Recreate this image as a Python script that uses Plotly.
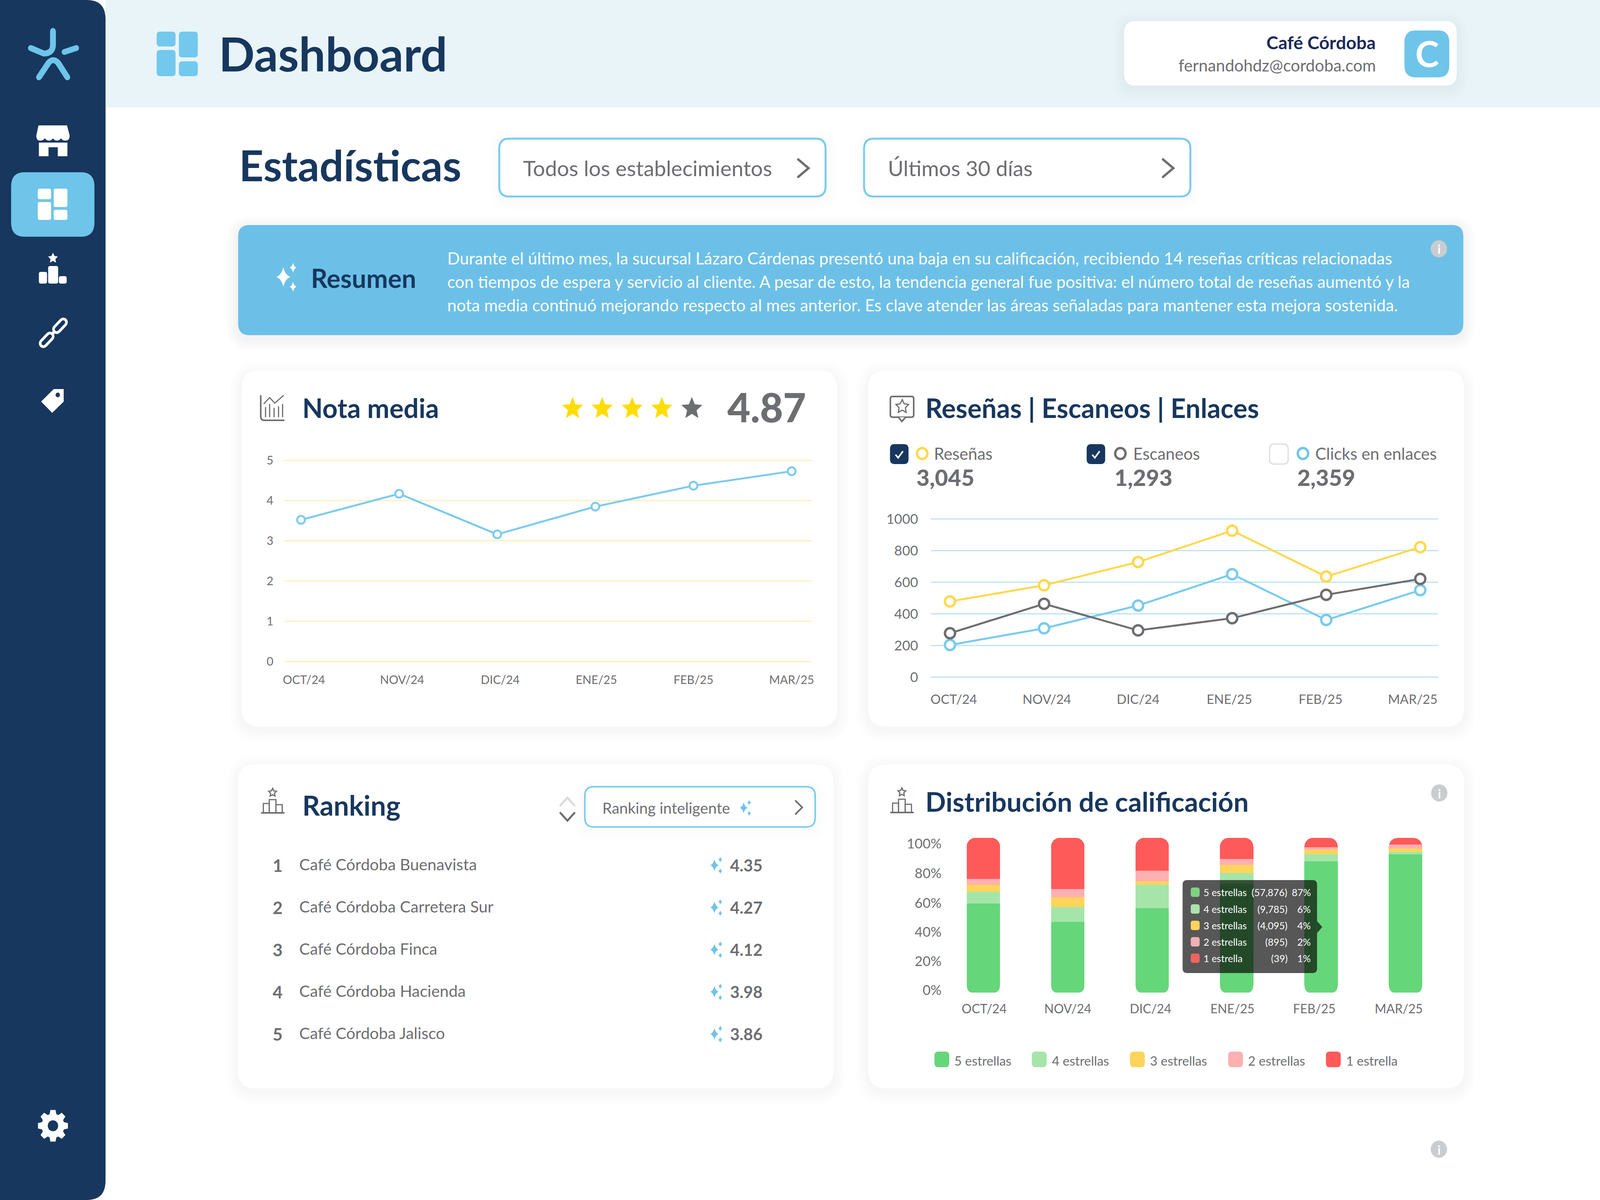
import math
import re

import numpy as np
import plotly.graph_objects as go

# data
months = ['OCT/24', 'NOV/24', 'DIC/24', 'ENE/25', 'FEB/25', 'MAR/25']
nota_media = [3.52, 4.17, 3.16, 3.85, 4.37, 4.73]
resenas = [479, 581, 728, 926, 636, 822]
escaneos = [278, 464, 296, 373, 521, 621]
clicks = [204, 309, 453, 651, 362, 550]
totals = ['3,045', '1,293', '2,359']
series_names = ['Reseñas', 'Escaneos', 'Clicks en enlaces']

stars_5 = [57.6, 45.6, 54.6, 70.5, 84.9, 89.5]
stars_4 = [7.6, 9.8, 15.2, 6.8, 4.6, 1.5]
stars_3 = [4.6, 6.1, 2.2, 5.4, 3.0, 2.2]
stars_2 = [3.7, 5.3, 6.8, 3.7, 1.5, 2.4]
stars_1 = [26.5, 33.2, 21.2, 13.6, 6.0, 4.3]
star_names = ['5 estrellas', '4 estrellas', '3 estrellas', '2 estrellas', '1 estrella']
tip_counts = ['(57,876)', '(9,785)', '(4,095)', '(895)', '(39)']
tip_pcts = ['87%', '6%', '4%', '2%', '1%']

rank_names = ['Café Córdoba Buenavista', 'Café Córdoba Carretera Sur', 'Café Córdoba Finca',
              'Café Córdoba Hacienda', 'Café Córdoba Jalisco']
rank_scores = ['4.35', '4.27', '4.12', '3.98', '3.86']

resumen = [
    'Durante el último mes, la sucursal Lázaro Cárdenas presentó una baja en su calificación, recibiendo 14 reseñas críticas relacionadas',
    'con tiempos de espera y servicio al cliente. A pesar de esto, la tendencia general fue positiva: el número total de reseñas aumentó y la',
    'nota media continuó mejorando respecto al mes anterior. Es clave atender las áreas señaladas para mantener esta mejora sostenida.',
]

W, H = 4320, 3072
FONT = 'Lato'
NAVY = '#17375E'
BLUE = '#6EC4E9'
GRAY = '#6D6E71'
YELLOW = '#FFD84D'
GREENS = ['#66D67A', '#A5E5A9', '#FFD45C', '#FFB0B0', '#FF5A5A']
TIP_SWATCH = ['#7FD181', '#A9E2AE', '#FFD45C', '#F3B0B4', '#EE6360']

shapes = []
notes = []


def to_paper(d):
    # turn a path written in page pixels into paper fractions
    out = []
    is_x = True
    for tok in re.findall(r'[A-Z]|-?\d+\.?\d*', d):
        if tok.isalpha():
            out.append(tok)
            is_x = True
        else:
            v = float(tok)
            out.append(f'{v / W:.6f}' if is_x else f'{1 - v / H:.6f}')
            is_x = not is_x
    return ' '.join(out)


def add_path(d, fill=None, line=None, w=0, layer='below'):
    shapes.append(dict(type='path', path=to_paper(d), xref='paper', yref='paper', layer=layer,
                       fillcolor=fill if fill else 'rgba(0,0,0,0)',
                       line=dict(color=line if line else 'rgba(0,0,0,0)', width=w)))


def rr_path(x0, y0, x1, y1, r):
    return (f'M {x0 + r} {y0} L {x1 - r} {y0} Q {x1} {y0} {x1} {y0 + r} L {x1} {y1 - r} Q {x1} {y1} {x1 - r} {y1} '
            f'L {x0 + r} {y1} Q {x0} {y1} {x0} {y1 - r} L {x0} {y0 + r} Q {x0} {y0} {x0 + r} {y0} Z')


def rrect(x0, y0, x1, y1, r, fill=None, line=None, w=0, layer='below'):
    add_path(rr_path(x0, y0, x1, y1, r), fill, line, w, layer)


def circle(cx, cy, r, fill=None, line=None, w=0, layer='below'):
    shapes.append(dict(type='circle', xref='paper', yref='paper', layer=layer,
                       x0=(cx - r) / W, x1=(cx + r) / W, y0=1 - (cy + r) / H, y1=1 - (cy - r) / H,
                       fillcolor=fill if fill else 'rgba(0,0,0,0)',
                       line=dict(color=line if line else 'rgba(0,0,0,0)', width=w)))


def round_stroke(d, w, color):
    # shapes have no round line caps, so put a dot on both ends
    nums = [float(t) for t in re.findall(r'-?\d+\.?\d*', d)]
    add_path(d, None, color, w)
    circle(nums[0], nums[1], w / 2, color)
    circle(nums[-2], nums[-1], w / 2, color)


def shadow(x0, y0, x1, y1, r, alpha, dy=8):
    for pad in (30, 22, 14, 7):
        rrect(x0 - pad, y0 - pad + dy, x1 + pad, y1 + pad + dy, r + pad, f'rgba(0,0,0,{alpha})')


def text(x, y, s, size, color=GRAY, weight=400, anchor='left'):
    notes.append(dict(x=x / W, y=1 - y / H, xref='paper', yref='paper', text=s, showarrow=False,
                      xanchor=anchor, yanchor='middle', borderpad=0, borderwidth=0,
                      font=dict(family=FONT, size=size, color=color, weight=weight)))


def star_d(cx, cy, R, ratio=0.45):
    pts = []
    for i in range(10):
        a = -math.pi / 2 + i * math.pi / 5
        rad = R if i % 2 == 0 else R * ratio
        pts.append((cx + rad * math.cos(a), cy + rad * math.sin(a)))
    return 'M ' + ' L '.join(f'{x:.1f} {y:.1f}' for x, y in pts) + ' Z'


def sparkle_d(cx, cy, r):
    return (f'M {cx} {cy - r} Q {cx + r * .2} {cy - r * .2} {cx + r * .75} {cy} Q {cx + r * .2} {cy + r * .2} {cx} {cy + r} '
            f'Q {cx - r * .2} {cy + r * .2} {cx - r * .75} {cy} Q {cx - r * .2} {cy - r * .2} {cx} {cy - r} Z')


def sparkles(cx, cy, r, color):
    add_path(sparkle_d(cx, cy, r), color)
    add_path(sparkle_d(cx + r * 1.05, cy - r * .95, r * .5), color)
    add_path(sparkle_d(cx + r * 1.05, cy + r * 1.0, r * .5), color)


def chevron(x0, x1, y0, y1, color=GRAY, w=6):
    round_stroke(f'M {x0} {y0} L {x1} {(y0 + y1) / 2} L {x0} {y1}', w, color)


def info(cx, cy):
    circle(cx, cy, 22, '#C9CDD0')
    text(cx, cy + 1, 'i', 32, 'white', 700, 'center')


def podium_icon(x0, y0):
    # outline podium with a star on top, used on the two lower cards
    add_path(star_d(x0 + 31, y0 + 9, 11, .5), None, GRAY, 3)
    add_path(f'M {x0} {y0 + 61} L {x0 + 63} {y0 + 61}', None, GRAY, 4)
    add_path(f'M {x0 + 6} {y0 + 60} L {x0 + 6} {y0 + 37} L {x0 + 22} {y0 + 37} L {x0 + 22} {y0 + 60}', None, GRAY, 3)
    add_path(f'M {x0 + 22} {y0 + 60} L {x0 + 22} {y0 + 27} L {x0 + 40} {y0 + 27} L {x0 + 40} {y0 + 60}', None, GRAY, 3)
    add_path(f'M {x0 + 40} {y0 + 60} L {x0 + 40} {y0 + 40} L {x0 + 57} {y0 + 40} L {x0 + 57} {y0 + 60}', None, GRAY, 3)


# page frame
add_path(f'M 285 0 L {W} 0 L {W} 275 L 285 275 Z', '#E8F4F7')
add_path(f'M 0 0 L 235 0 Q 285 0 285 50 L 285 {H - 50} Q 285 {H} 235 {H} L 0 {H} Z', NAVY)

# logo
round_stroke('M 143 79 L 143 114 Q 143 137 118 137 L 83 123', 15, BLUE)
round_stroke('M 174 133 L 206 123', 15, BLUE)
round_stroke('M 105 198 L 131 161 Q 143 147 157 161 L 182 198', 15, BLUE)

# sidebar icons
add_path('M 104 321 L 181 321 L 188 347 Q 188 360 177 360 Q 168 360 165 354 Q 160 360 154 360 Q 147 360 143 354 '
         'Q 139 360 132 360 Q 126 360 121 354 Q 117 360 108 360 Q 98 360 98 347 Z', 'white')
add_path('M 105 365 L 182 365 L 182 400 L 156 400 L 156 377 L 131 377 L 131 400 L 105 400 Z', 'white')
rrect(30, 441, 255, 606, 36, BLUE)
rrect(102, 483, 138, 510, 5, 'white')
rrect(102, 517, 138, 563, 5, 'white')
rrect(145, 483, 182, 530, 5, 'white')
rrect(145, 537, 182, 563, 5, 'white')
add_path(star_d(143, 661, 14, .5), 'white')
rrect(105, 696, 127, 726, 5, 'white')
rrect(130, 681, 157, 726, 5, 'white')
rrect(159, 707, 180, 726, 5, 'white')
round_stroke('M 136 860 L 152 844', 8, 'white')
for a, b in (((117, 879), (135, 861)), ((171, 825), (153, 843))):
    round_stroke(f'M {a[0]} {a[1]} L {b[0]} {b[1]}', 24, 'white')
    round_stroke(f'M {a[0]} {a[1]} L {b[0]} {b[1]}', 10, NAVY)
add_path('M 172 996 L 145 996 L 111 1028 L 141 1057 L 172 1028 Z', 'white')
circle(156, 1011, 6, NAVY)
gear = []
for i in range(8):
    a = i * math.pi / 4
    for da, rad in ((-0.30, 31), (-0.17, 41), (0.17, 41), (0.30, 31)):
        gear.append((143 + rad * math.cos(a + da), 2882 + rad * math.sin(a + da)))
add_path('M ' + ' L '.join(f'{x:.1f} {y:.1f}' for x, y in gear) + ' Z', 'white')
circle(143, 2882, 14, NAVY)

# header
for box in ((423, 81, 474, 119), (423, 128, 474, 195), (483, 81, 534, 147), (483, 157, 534, 195)):
    rrect(*box, 9, '#73C8ED')
text(591, 136, 'Dashboard', 121, NAVY, 700)
shadow(3035, 54, 3933, 219, 30, 0.008)
rrect(3035, 54, 3933, 219, 30, 'white')
rrect(3792, 78, 3913, 198, 30, BLUE)
text(3853, 137, 'C', 92, 'white', 700, 'center')
text(3715, 108, 'Café Córdoba', 46, '#1D2B5A', 700, 'right')
text(3715, 167, 'fernandohdz@cordoba.com', 42, GRAY, 400, 'right')

# filter row
text(645, 421, 'Estadísticas', 109, NAVY, 700)
for x0, label in ((1348, 'Todos los establecimientos'), (2333, 'Últimos 30 días')):
    shadow(x0, 355, x0 + 881, 503, 26, 0.004, 6)
    rrect(x0, 355, x0 + 881, 503, 26, 'white', '#7CCBEE', 5)
    text(x0 + 64, 430, label, 54.5, GRAY)
    chevron(x0 + 807, x0 + 835, 408, 453)

# resumen banner
shadow(643, 576, 3951, 858, 30, 0.012)
rrect(643, 576, 3951, 858, 30, '#6CC0E7')
sparkles(765, 709, 25, 'white')
text(840, 711, 'Resumen', 66, NAVY, 700)
for yy, line in zip((660, 720, 781), resumen):
    text(1208, yy, line, 42.4, 'white')
info(3885, 637)

# cards
for box in ((652, 948, 2261, 1860), (2344, 948, 3953, 1860), (642, 1957, 2251, 2786), (2344, 1957, 3953, 2786)):
    shadow(*box, 48, 0.006)
    rrect(*box, 48, 'white')

# nota media card
add_path('M 704 1012 L 704 1066 Q 704 1076 714 1076 L 768 1076', None, GRAY, 4)
for bx, top in ((717, 1042), (728, 1034), (740, 1044), (752, 1040), (763, 1034)):
    add_path(f'M {bx} 1068 L {bx} {top}', None, GRAY, 3)
add_path('M 712 1034 L 728 1018 L 742 1032 L 766 1012', None, GRAY, 3)
text(816, 1043, 'Nota media', 68, NAVY, 700)
for i, cx in enumerate((1546, 1626, 1707, 1787, 1868)):
    add_path(star_d(cx, 1046, 30), '#FFDD00' if i < 4 else GRAY)
text(1964, 1042, '4.87', 102, GRAY, 900)

# reseñas card
rrect(2404, 1015, 2467, 1068, 6, None, GRAY, 4)
add_path('M 2426 1068 L 2435 1079 L 2445 1068', 'white', GRAY, 4)
add_path(star_d(2436, 1041, 18, .5), None, GRAY, 3)
text(2499, 1043, 'Reseñas | Escaneos | Enlaces', 68, NAVY, 700)
legend_x = (2403, 2934, 3428)
ring_x = (2490, 3025, 3518)
label_x = (2522, 3060, 3551)
value_x = (2474, 3009, 3503)
ring_col = (YELLOW, GRAY, BLUE)
for i in range(3):
    if i < 2:
        rrect(legend_x[i], 1137, legend_x[i] + 50, 1188, 12, NAVY)
        add_path(f'M {legend_x[i] + 15} 1164 L {legend_x[i] + 22} 1172 L {legend_x[i] + 35} 1155', None, 'white', 4)
    else:
        rrect(legend_x[i], 1137, legend_x[i] + 50, 1188, 12, 'white', '#DDDDDD', 3)
    circle(ring_x[i], 1161, 14, 'white', ring_col[i], 6)
    text(label_x[i], 1161, series_names[i], 42, GRAY)
    text(value_x[i], 1222, totals[i], 58, GRAY, 900)

# ranking card
podium_icon(705, 2020)
text(816, 2061, 'Ranking', 70, NAVY, 700)
round_stroke('M 1513 2062 L 1532 2042 L 1551 2062', 5, '#D9D9D9')
round_stroke('M 1513 2081 L 1532 2101 L 1551 2081', 5, GRAY)
shadow(1579, 2014, 2201, 2117, 24, 0.004, 5)
rrect(1579, 2014, 2201, 2117, 24, 'white', '#7CCBEE', 4)
text(1626, 2068, 'Ranking inteligente', 39, GRAY)
sparkles(2008, 2068, 14, BLUE)
chevron(2148, 2166, 2050, 2084, GRAY, 4)
for i, yy in enumerate((2215, 2323, 2431, 2539, 2647)):
    text(750, yy, str(i + 1), 44, GRAY, 700, 'center')
    text(808, yy - 3, rank_names[i], 41, GRAY)
    sparkles(1929, yy, 15, BLUE)
    text(1971, yy, rank_scores[i], 42, GRAY, 700)

# distribucion card
podium_icon(2404, 2019)
text(2499, 2051, 'Distribución de calificación', 69, NAVY, 700)
info(3886, 2030)
info(3885, 2942)
for i, x0 in enumerate((2523, 2786, 3051, 3316, 3580)):
    rrect(x0, 2692, x0 + 40, 2732, 10, GREENS[i])
    text(x0 + 54, 2715, star_names[i], 33, GRAY)

# barcornerradius only rounds the top of a stack, so cut the bottom corners by hand
bar_r = 20
for i in range(len(months)):
    x0, x1 = 2610 + 228 * i, 2700 + 228 * i
    add_path(f'M {x0 - 1} 2542 L {x0 + bar_r} 2542 Q {x0} 2542 {x0} {2541 - bar_r} L {x0 - 1} {2541 - bar_r} Z', 'white', layer='above')
    add_path(f'M {x1 + 1} 2542 L {x1 - bar_r} 2542 Q {x1} 2542 {x1} {2541 - bar_r} L {x1 + 1} {2541 - bar_r} Z', 'white', layer='above')

# tooltip over the bars
TIP = 'rgba(0,0,0,0.66)'
add_path('M 3556 2358 L 3570 2373 L 3556 2389 Z', TIP, layer='above')
rrect(3193, 2253, 3556, 2491, 12, TIP, layer='above')
for i, yy in enumerate((2284, 2327, 2369, 2411, 2453)):
    rrect(3215, yy - 12, 3239, yy + 12, 6, TIP_SWATCH[i], layer='above')
    text(3249, yy, star_names[i], 25, 'white')
    text(3476, yy, tip_counts[i], 25, 'white', 400, 'right')
    text(3540, yy, tip_pcts[i], 25, 'white', 400, 'right')

fig = go.Figure()
idx = np.arange(len(months))


def dom_x(x0, x1):
    return [x0 / W, x1 / W]


def dom_y(y0, y1):
    return [1 - y1 / H, 1 - y0 / H]


# nota media line
fig.add_trace(go.Scatter(x=idx, y=nota_media, mode='lines+markers', xaxis='x', yaxis='y', showlegend=False,
                         line=dict(color='#7CCBEE', width=5),
                         marker=dict(size=20, color='white', line=dict(color='#7CCBEE', width=5))))

# three series chart
for vals, col in zip((resenas, clicks, escaneos), (YELLOW, '#78CBEE', GRAY)):
    fig.add_trace(go.Scatter(x=idx, y=vals, mode='lines+markers', xaxis='x2', yaxis='y2', showlegend=False,
                             line=dict(color=col, width=5),
                             marker=dict(size=26, color='white', line=dict(color=col, width=6))))

# stacked distribution
for vals, col, name in zip((stars_5, stars_4, stars_3, stars_2, stars_1), GREENS, star_names):
    fig.add_trace(go.Bar(x=idx, y=vals, name=name, marker=dict(color=col, line=dict(width=0)),
                         width=0.395, xaxis='x3', yaxis='y3', showlegend=False))


def tick_font(size):
    return dict(family=FONT, size=size, color=GRAY)


# ranges run a little past the end ticks, plotly drops a grid line that sits on the very edge
fig.update_layout(
    width=W, height=H, margin=dict(l=0, r=0, t=0, b=0, autoexpand=False),
    paper_bgcolor='white', plot_bgcolor='rgba(0,0,0,0)',
    barmode='stack', barcornerradius=22, shapes=shapes, annotations=notes, showlegend=False,
    xaxis=dict(domain=dom_x(766.6, 2193), range=[-0.174, 5.21], tickmode='array',
               tickvals=idx + np.array([0.03, 0.03, 0.03, 0.01, 0.0, 0.0]), ticktext=months,
               showgrid=False, zeroline=False, tickfont=tick_font(30), ticklabelstandoff=24, automargin=False),
    yaxis=dict(domain=dom_y(1175.5, 1696.1), range=[-0.03, 5.03], dtick=1, gridcolor='#FBF0C0', gridwidth=3,
               zeroline=False, tickfont=tick_font(30), ticklabelstandoff=26, anchor='x', automargin=False),
    xaxis2=dict(domain=dom_x(2513.6, 3883), range=[-0.2024, 5.19], tickmode='array',
                tickvals=idx + np.array([0.04, 0.03, 0.0, -0.03, -0.06, -0.08]), ticktext=months,
                showgrid=False, zeroline=False, tickfont=tick_font(33), anchor='y2', ticklabelstandoff=30,
                automargin=False),
    yaxis2=dict(domain=dom_y(1324.5, 1737.8), range=[-10, 1010], dtick=200, gridcolor='#BDE3F4', gridwidth=3,
                zeroline=False, tickfont=tick_font(35), anchor='x2', ticklabelstandoff=32, automargin=False),
    xaxis3=dict(domain=dom_x(2560, 3890), range=[-0.4167, 5.417], tickmode='array',
                tickvals=idx + np.array([0.01, 0.0, -0.02, -0.05, -0.08, -0.08]), ticktext=months,
                showgrid=False, zeroline=False, tickfont=tick_font(32), anchor='y3', ticklabelstandoff=20,
                automargin=False),
    yaxis3=dict(domain=dom_y(2145, 2541), range=[0, 100], tickmode='array',
                tickvals=[1.5, 20.2, 39.1, 58, 77, 96.2], ticktext=['0%', '20%', '40%', '60%', '80%', '100%'],
                showgrid=False, zeroline=False, tickfont=tick_font(35), anchor='x3', ticklabelstandoff=16,
                automargin=False),
)

# fill whatever window the page is opened in, the layout above is all in fractions of it
fit = """
document.body.style.margin = '0';
document.documentElement.style.overflow = 'hidden';
Plotly.relayout(document.getElementById('{plot_id}'), {width: window.innerWidth, height: window.innerHeight});
"""
fig.write_html('out.html', post_script=fit, config={'displayModeBar': False})
